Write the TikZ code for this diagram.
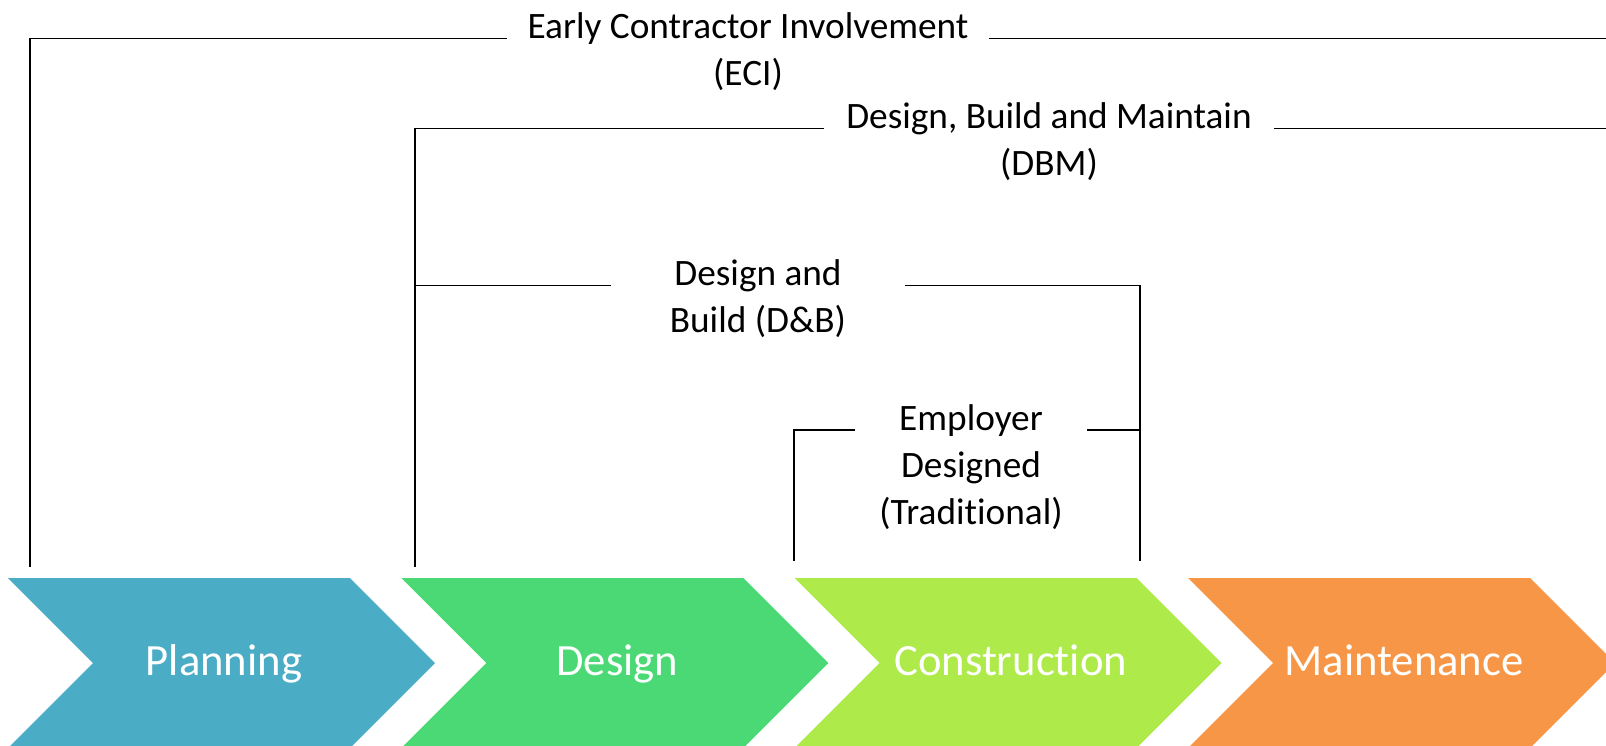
\documentclass[tikz,border=0pt]{standalone}
\usepackage{fontspec}
\setmainfont{Carlito}[RawFeature={-liga;-clig;-calt;-dlig}]
\definecolor{planblue}{HTML}{4BACC6}
\definecolor{designgreen}{HTML}{4AD975}
\definecolor{buildlime}{HTML}{ADEA4A}
\definecolor{maintorange}{HTML}{F79646}
\tikzset{
  route/.style={line width=0.5pt},
  scheme/.style={font=\fontsize{10.6}{13.4}\selectfont, align=flush center, inner sep=0pt, anchor=base},
  phase/.style={font=\fontsize{12.7}{15}\selectfont, text=white, inner sep=0pt, anchor=base},
}
\begin{document}
\begin{tikzpicture}[x=0.01cm,y=-0.01cm]
  \useasboundingbox (0,0) rectangle (1606,745);
  \clip (0,0) rectangle (1606,745);
  %% project stages
  \foreach \x/\col/\stage/\lbl in {8/planblue/plan/Planning,401.3/designgreen/design/Design,794.7/buildlime/build/Construction,1188/maintorange/maint/Maintenance}
      \fill[\col] (\x,578) -- ++(342,0) -- ++(85,85) -- ++(-85,85) -- ++(-342,0) -- ++(85,-85) -- cycle
          node[phase] (\stage) at (\x+216,675) {\lbl};
  %% procurement routes
  \node[scheme, text width=4.8cm] (eci) at (748,38.5) {Early Contractor Involvement\\(ECI)};
  \node[scheme, text width=4.48cm] (dbm) at (1049,128.5) {Design, Build and Maintain\\(DBM)};
  \node[scheme, text width=2.93cm] (db) at (758,285.5) {Design and\\Build (D\&B)};
  \node[scheme, text width=2.31cm] (emp) at (971,430) {Employer\\Designed\\(Traditional)};
  \coordinate (eciL) at (30,567);
  \coordinate (eciR) at (1606,38.5);
  \coordinate (dbmL) at (415,567);
  \coordinate (dbmR) at (1606,128.5);
  \coordinate (dbR) at (1140,561);
  \coordinate (empL) at (794,561);
  %% brackets
  \draw[route] (eciL) |- (eci.base west);
  \draw[route] (eci.base east) -- (eciR);
  \draw[route] (dbmL) |- (dbm.base west);
  \draw[route] (dbm.base east) -- (dbmR);
  \draw[route] (db.base west) -- (db.base west -| dbmL);
  \draw[route] (db.base east) -| (dbR);
  \draw[route] (empL) |- (emp.base west);
  \draw[route] (emp.base east) -- (emp.base east -| dbR);
\end{tikzpicture}
\end{document}
